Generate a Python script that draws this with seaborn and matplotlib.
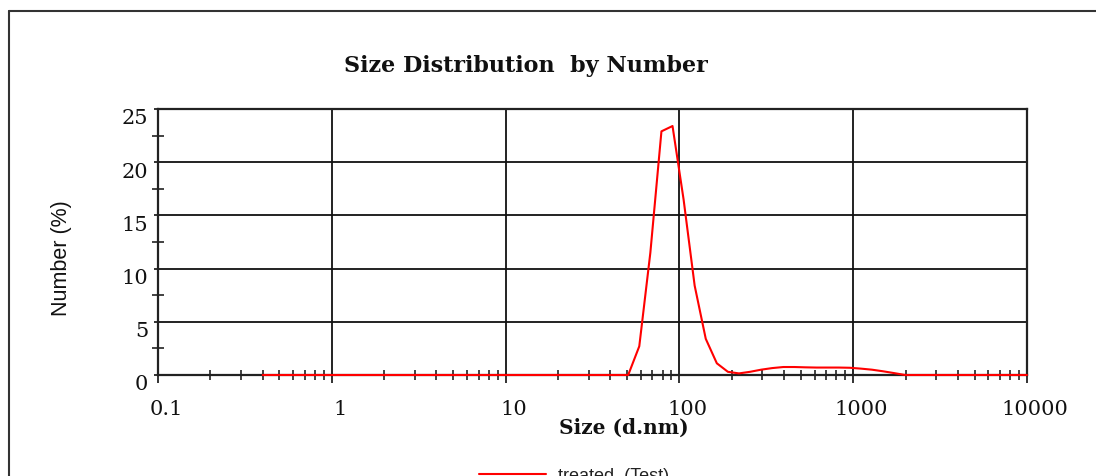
import matplotlib
matplotlib.use("Agg")
import matplotlib.pyplot as plt
import matplotlib.transforms as mtransforms
from matplotlib.lines import Line2D
from matplotlib.ticker import FixedLocator, NullFormatter, LogLocator
import seaborn as sns
import pandas as pd

# ---- data (Zetasizer size bins, d.nm) ----
sizes = [0.4, 0.4632, 0.5365, 0.6213, 0.7195, 0.8332, 0.9649, 1.117, 1.294, 1.499,
         1.736, 2.010, 2.328, 2.696, 3.122, 3.615, 4.187, 4.849, 5.615, 6.503,
         7.531, 8.721, 10.10, 11.70, 13.54, 15.69, 18.17, 21.04, 24.36, 28.21,
         32.67, 37.84, 43.82, 50.75, 58.77, 68.06, 78.82, 91.28, 105.7, 122.4,
         141.8, 164.2, 190.1, 220.2, 255.0, 295.3, 342.0, 396.1, 458.7, 531.2,
         615.1, 712.4, 825.0, 955.4, 1106, 1281, 1484, 1718, 1990, 2305,
         2669, 3091, 3580, 4145, 4801, 5560, 6439, 7456, 8635, 10000]
number_pct = [0]*33 + [0.0, 2.7, 11.5, 22.9, 23.4, 16.5, 8.4,
              3.4, 1.1, 0.3, 0.15, 0.3, 0.5, 0.65, 0.75, 0.75, 0.72,
              0.7, 0.7, 0.7, 0.68, 0.6, 0.5, 0.35, 0.18, 0.0, 0.0,
              0, 0, 0, 0, 0, 0, 0, 0, 0, 0]
series_name = "treated  (Test)"
x_ticks = [0.1, 1, 10, 100, 1000, 10000]
x_tick_labels = ["0.1", "1", "10", "100", "1000", "10000"]
y_ticks = [0, 5, 10, 15, 20, 25]

df = pd.DataFrame({"Size": sizes, "Number": number_pct, "Sample": series_name})

sns.set_theme(style="white")
plt.rcParams["font.family"] = ["DejaVu Serif"]

W, H = 1096, 477
fig = plt.figure(figsize=(W/100, H/100), dpi=100)
ax = fig.add_axes([158/W, 1-376/H, (1027-158)/W, (376-110)/H])

sns.lineplot(data=df, x="Size", y="Number", hue="Sample", palette=["#ff0000"],
             linewidth=1.5, ax=ax, legend=True, zorder=4)
for ln in ax.get_lines():
    ln.set_clip_on(False)

ax.set_xscale("log")
ax.set_xlim(0.1, 10000)
ax.set_ylim(0, 25)

ax.xaxis.set_major_locator(FixedLocator(x_ticks))
ax.set_xticklabels(x_tick_labels)
ax.xaxis.set_minor_locator(LogLocator(base=10, subs=range(2, 10)))
ax.xaxis.set_minor_formatter(NullFormatter())
ax.set_yticks(y_ticks)
ax.set_yticks([2.5, 7.5, 12.5, 17.5, 22.5], minor=True)

ax.grid(True, which="major", color="#111111", linewidth=1.3)
for s in ax.spines.values():
    s.set_visible(True)
    s.set_color("#222222")
    s.set_linewidth(1.6)

ax.tick_params(which="both", bottom=True, left=True, top=False, right=False)
ax.tick_params(axis="x", which="major", direction="out", length=6, width=1.3,
               color="#222222", labelsize=15, pad=11, labelcolor="#111111")
ax.tick_params(axis="x", which="minor", direction="inout", length=7, width=1.2,
               color="#222222")
ax.tick_params(axis="y", which="major", direction="out", length=3, width=1.3,
               color="#222222", labelsize=15, pad=4, labelcolor="#111111")
ax.tick_params(axis="y", which="minor", direction="inout", length=8, width=1.2,
               color="#222222")

# shift tick labels like the instrument software
for lbl in ax.get_xticklabels():
    lbl.set_transform(lbl.get_transform() + mtransforms.ScaledTranslation(8/100, 0, fig.dpi_scale_trans))
for lbl in ax.get_yticklabels():
    lbl.set_transform(lbl.get_transform() + mtransforms.ScaledTranslation(0, -7/100, fig.dpi_scale_trans))

ax.set_xlabel("Size (d.nm)", fontsize=14.5, fontweight="bold", color="#111111")
ax.xaxis.set_label_coords((624-158)/(1027-158), -(428-376)/(376-110))
ax.xaxis.label.set_verticalalignment("center")
ax.set_ylabel("Number (%)", fontsize=15.5, family=["Liberation Sans"], color="#111111")
ax.yaxis.set_label_coords(-(158-62)/(1027-158), (376-258)/(376-110))
ax.yaxis.label.set_verticalalignment("center")

fig.text(526/W, 1-66/H, "Size Distribution  by Number", ha="center", va="center",
         fontsize=16, fontweight="bold", color="#111111")

leg = ax.legend(loc="upper left", bbox_to_anchor=(470/W, 1-459/H),
                bbox_transform=fig.transFigure, frameon=False, borderpad=0,
                handlelength=3.7, handletextpad=0.65,
                prop={"family": "Liberation Sans", "size": 13})
for t in leg.get_texts():
    t.set_color("#222222")
for h in leg.legend_handles:
    h.set_linewidth(1.5)

# outer frame of the report page
fig.add_artist(Line2D([9/W, 1.0], [1-12/H, 1-12/H], transform=fig.transFigure,
                      color="#333333", linewidth=1.5))
fig.add_artist(Line2D([9/W, 9/W], [0, 1-12/H], transform=fig.transFigure,
                      color="#333333", linewidth=1.5))

fig.savefig("out.png", dpi=100)
